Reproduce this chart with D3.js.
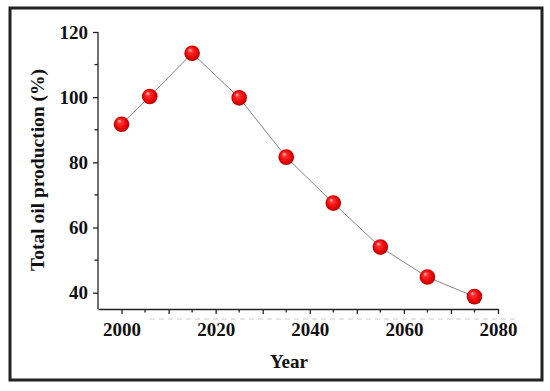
<!DOCTYPE html>
<meta charset="utf-8">
<style>
    body { margin: 0; background: #fff; }
    text { font-family: "Liberation Serif", "Times New Roman", serif; font-weight: bold; fill: #111; }
    .axis path, .axis line { stroke: #222; stroke-width: 1.3px; }
</style>
<svg width="550" height="391"></svg>
<script src="https://cdn.jsdelivr.net/npm/d3@7"></script>
<script>

    // values
    var years = [2000, 2006, 2015, 2025, 2035, 2045, 2055, 2065, 2075];
    var production = [91.7, 100.2, 113.5, 99.8, 81.6, 67.5, 54.0, 44.8, 38.8];
    var xTicks = [2000, 2020, 2040, 2060, 2080];
    var yTicks = [40, 60, 80, 100, 120];

    var svg = d3.select("svg");

    // outer frame
    svg.append("rect")
            .attr("x", 10).attr("y", 8)
            .attr("width", 532).attr("height", 372)
            .attr("fill", "#fff")
            .attr("stroke", "#222")
            .attr("stroke-width", 3);

    var x = d3.scaleLinear().domain([1995, 2080]).range([98, 498]);
    var y = d3.scaleLinear().domain([35, 120]).range([309, 32]);

    // faint dashed line under the x axis
    svg.append("line")
            .attr("x1", 150).attr("x2", 515)
            .attr("y1", 319).attr("y2", 319)
            .attr("stroke", "#ccc")
            .attr("stroke-width", 1)
            .attr("stroke-dasharray", "5,4");

    // x axis: minor ticks every 5, major every 10, labels every 20
    var gx = svg.append("g").attr("class", "axis")
            .attr("transform", "translate(0,309)")
            .call(d3.axisBottom(x).tickValues(d3.range(2000, 2081, 10))
                    .tickSize(5).tickSizeOuter(0)
                    .tickFormat(function (d) { return xTicks.indexOf(d) >= 0 ? d : ""; }));
    gx.selectAll("text").attr("font-size", "19px").attr("dy", "1em");
    gx.selectAll(".minor").data(d3.range(2005, 2080, 10)).enter()
            .append("line")
            .attr("x1", x).attr("x2", x)
            .attr("y1", 0).attr("y2", 3.5);

    // y axis: major every 20, minor every 10
    var gy = svg.append("g").attr("class", "axis")
            .attr("transform", "translate(98,0)")
            .call(d3.axisLeft(y).tickValues(yTicks).tickSize(5).tickSizeOuter(0).tickPadding(5));
    gy.selectAll("text").attr("font-size", "19px");
    gy.selectAll(".minor").data([50, 70, 90, 110]).enter()
            .append("line")
            .attr("y1", y).attr("y2", y)
            .attr("x1", 0).attr("x2", -3.5);
    gy.select(".domain").attr("d", "M0," + y(120) + "V309");

    // axis titles
    svg.append("text")
            .attr("x", 289).attr("y", 368)
            .attr("text-anchor", "middle")
            .attr("font-size", "19px")
            .text("Year");

    svg.append("text")
            .attr("transform", "translate(44,170) rotate(-90)")
            .attr("text-anchor", "middle")
            .attr("font-size", "19.5px")
            .text("Total oil production (%)");

    // sphere gradient
    var grad = svg.append("defs").append("radialGradient")
            .attr("id", "ball")
            .attr("cx", "50%").attr("cy", "50%").attr("r", "55%")
            .attr("fx", "35%").attr("fy", "28%");
    grad.append("stop").attr("offset", "0%").attr("stop-color", "#ffd0d0");
    grad.append("stop").attr("offset", "25%").attr("stop-color", "#ff3030");
    grad.append("stop").attr("offset", "70%").attr("stop-color", "#e60000");
    grad.append("stop").attr("offset", "100%").attr("stop-color", "#a00000");

    var pts = years.map(function (d, i) { return [d, production[i]]; });

    var line = d3.line()
            .x(function (d) { return x(d[0]); })
            .y(function (d) { return y(d[1]); });

    svg.append("path")
            .datum(pts)
            .attr("d", line)
            .attr("fill", "none")
            .attr("stroke", "#777")
            .attr("stroke-width", 0.9);

    svg.selectAll(".ball").data(pts).enter()
            .append("circle")
            .attr("class", "ball")
            .attr("cx", function (d) { return x(d[0]); })
            .attr("cy", function (d) { return y(d[1]); })
            .attr("r", 7.8)
            .attr("fill", "url(#ball)");

</script>
